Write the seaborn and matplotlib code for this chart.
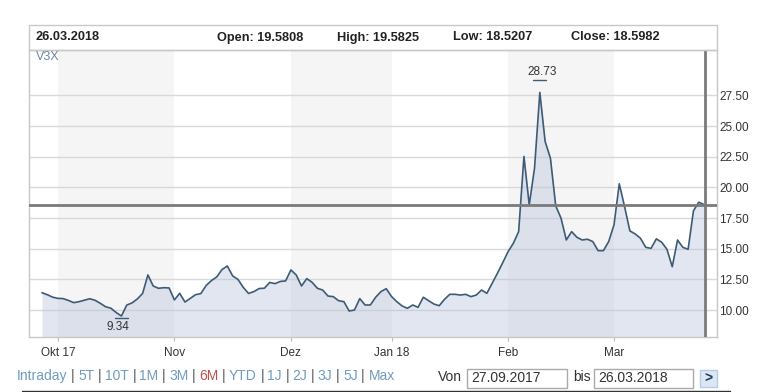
import numpy as np
import pandas as pd
import matplotlib
matplotlib.use("Agg")
import matplotlib.pyplot as plt
import seaborn as sns
from matplotlib.patches import Rectangle
from matplotlib.lines import Line2D
from matplotlib.ticker import FormatStrFormatter

# Daten (V3X, 6 Monate, Schlusskurse je Handelstag)
trade_dates = pd.bdate_range("2017-09-27", "2018-03-26", freq="C",
                             holidays=["2017-12-25", "2017-12-26", "2018-01-01"])
v3x_close = [
    11.41, 11.25, 11.05, 10.95, 10.93, 10.78, 10.60, 10.68, 10.80, 10.92,
    10.80, 10.55, 10.27, 10.15, 9.80, 9.51, 10.40, 10.58, 10.90, 11.35,
    12.86, 11.96, 11.77, 11.82, 11.80, 10.82, 11.36, 10.65, 10.95, 11.25,
    11.34, 12.00, 12.40, 12.70, 13.30, 13.59, 12.78, 12.50, 11.85, 11.35,
    11.50, 11.75, 11.78, 12.25, 12.15, 12.33, 12.37, 13.27, 12.86, 11.96,
    12.56, 12.26, 11.77, 11.63, 11.14, 11.09, 10.76, 10.68, 9.92, 10.00,
    10.93, 10.41, 10.41, 11.04, 11.50, 11.74, 11.10, 10.68, 10.33, 10.14,
    10.41, 10.22, 11.04, 10.76, 10.49, 10.35, 10.87, 11.28, 11.28, 11.22,
    11.28, 11.09, 11.22, 11.63, 11.36, 12.18, 13.00, 13.86, 14.76, 15.44,
    16.39, 22.52, 18.57, 21.57, 27.74, 23.74, 22.38, 18.49, 17.49, 15.71,
    16.39, 15.93, 15.71, 15.77, 15.58, 14.84, 14.84, 15.58, 16.94, 20.29,
    18.43, 16.45, 16.20, 15.85, 15.11, 15.03, 15.80, 15.53, 14.95, 13.53,
    15.71, 15.11, 14.95, 18.08, 18.79, 18.60,
]
month_labels = ["Okt 17", "Nov", "Dez", "Jan 18", "Feb", "Mar"]
y_ticks = [10.0, 12.5, 15.0, 17.5, 20.0, 22.5, 25.0, 27.5]
high_value = 28.73
low_value = 9.34
last_close = 18.5982
header_date = "26.03.2018"
header_fields = ["Open: 19.5808", "High: 19.5825", "Low: 18.5207", "Close: 18.5982"]
period_links = ["Intraday", "5T", "10T", "1M", "3M", "6M", "YTD", "1J", "2J", "3J", "5J", "Max"]
active_period = "6M"
von_date = "27.09.2017"
bis_date = "26.03.2018"

df = pd.DataFrame({"date": trade_dates, "close": v3x_close})
df["idx"] = np.arange(len(df))

sns.set_style("white")
plt.rcParams["font.family"] = ["Liberation Sans", "DejaVu Sans"]

W, H = 770, 392
fig = plt.figure(figsize=(W / 100, H / 100), dpi=100)


def fx(p):
    return p / W


def fy(p):
    return 1 - p / H


line_col = "#3d5b75"
grid_col = "#d9d9d9"
frame_col = "#c8c8c8"
text_col = "#333333"

ax = fig.add_axes([fx(29), fy(337), fx(717) - fx(29), fy(50) - fy(337)])

# Monatsanfaenge (erster Handelstag)
month_pos = [i for i in range(1, len(df)) if df.date[i].month != df.date[i - 1].month]
for k in (0, 2, 4):
    ax.axvspan(month_pos[k], month_pos[k + 1], color="#f5f5f5", lw=0, zorder=0)

sns.lineplot(data=df, x="idx", y="close", ax=ax, color=line_col, lw=1.2, zorder=3)
ax.set_ylim(7.8, 31.2)
ax.fill_between(df["idx"], df["close"], ax.get_ylim()[0], color="#b4c2dc", alpha=0.4, lw=0, zorder=2)
n = len(df)
ax.set_xlim(-2.45, n - 1 + 2.45)

ax.axhline(last_close, color="#7a7a7a", lw=2, zorder=4)
ax.axvline(n - 1 + 0.2, color="#7a7a7a", lw=2, zorder=4)

# Hoch / Tief
hi_idx = int(np.argmax(v3x_close))
lo_idx = int(np.argmin(v3x_close))
ax.plot([hi_idx - 1.2, hi_idx + 1.2], [high_value, high_value], color=line_col, lw=1, zorder=5)
ax.annotate(f"{high_value:.2f}", (hi_idx + 0.4, high_value), xytext=(0, 2), textcoords="offset points",
            ha="center", va="bottom", fontsize=8.5, color=text_col)
ax.plot([lo_idx - 1.2, lo_idx + 1.2], [low_value, low_value], color=line_col, lw=1, zorder=5)
ax.annotate(f"{low_value:.2f}", (lo_idx - 0.6, low_value), xytext=(0, -2), textcoords="offset points",
            ha="center", va="top", fontsize=8.5, color=text_col)

ax.set_yticks(y_ticks)
ax.yaxis.set_major_formatter(FormatStrFormatter("%.2f"))
ax.yaxis.tick_right()
ax.grid(axis="y", color=grid_col, lw=1)
ax.set_axisbelow(True)
ax.set_xticks(month_pos, month_labels)
ax.tick_params(axis="x", bottom=True, length=3, color="#bbbbbb", labelsize=8.5, labelcolor=text_col, pad=4)
ax.tick_params(axis="y", length=0, pad=1.5, labelsize=8.5, labelcolor=text_col)
ax.set_xlabel("")
ax.set_ylabel("")
for sp in ax.spines.values():
    sp.set_color(frame_col)
    sp.set_linewidth(1)

fig.text(fx(36), fy(57), "V3X", fontsize=9, color="#6b87a5", va="center")

# Kopfzeile
fig.patches.append(Rectangle((fx(29), fy(50)), fx(717) - fx(29), fy(25) - fy(50),
                             transform=fig.transFigure, fill=False, edgecolor=frame_col, lw=1))
fig.text(fx(36), fy(37.5), header_date, fontsize=9.2, fontweight="bold", color="#222222", va="center")
for xpos, txt in zip([217, 337, 453, 571], header_fields):
    fig.text(fx(xpos), fy(37.5), txt, fontsize=9.2, fontweight="bold", color="#222222", va="center")

# Zeitraum-Links
renderer = fig.canvas.get_renderer()
x = 17
for k, name in enumerate(period_links):
    col = "#c0504d" if name == active_period else "#6f9bbd"
    t = fig.text(fx(x), fy(376), name, fontsize=10, color=col, va="center")
    x = t.get_window_extent(renderer).x1 + 3.5
    if k < len(period_links) - 1:
        s = fig.text(fx(x), fy(376), "|", fontsize=10, color="#555555", va="center")
        x = s.get_window_extent(renderer).x1 + 3.5

fig.text(fx(438), fy(377), "Von", fontsize=10, color=text_col, va="center")
fig.patches.append(Rectangle((fx(467), fy(388)), fx(567) - fx(467), fy(369) - fy(388),
                             transform=fig.transFigure, facecolor="white", edgecolor="#aaaaaa", lw=1))
fig.text(fx(471), fy(378), von_date, fontsize=10, color=text_col, va="center")
fig.text(fx(573), fy(377), "bis", fontsize=10, color=text_col, va="center")
fig.patches.append(Rectangle((fx(594), fy(388)), fx(693) - fx(594), fy(369) - fy(388),
                             transform=fig.transFigure, facecolor="white", edgecolor="#aaaaaa", lw=1))
fig.text(fx(598), fy(378), bis_date, fontsize=10, color=text_col, va="center")
fig.patches.append(Rectangle((fx(700), fy(387)), fx(717) - fx(700), fy(370) - fy(387),
                             transform=fig.transFigure, facecolor="#dbe7f5", edgecolor="#b7cbe3", lw=1))
fig.text(fx(708.5), fy(378.5), ">", fontsize=10, fontweight="bold", color="#1f3b5e", ha="center", va="center")

fig.add_artist(Line2D([fx(22), fx(730)], [fy(391), fy(391)], transform=fig.transFigure, color="#333333", lw=1))

fig.savefig("out.png", dpi=100)
